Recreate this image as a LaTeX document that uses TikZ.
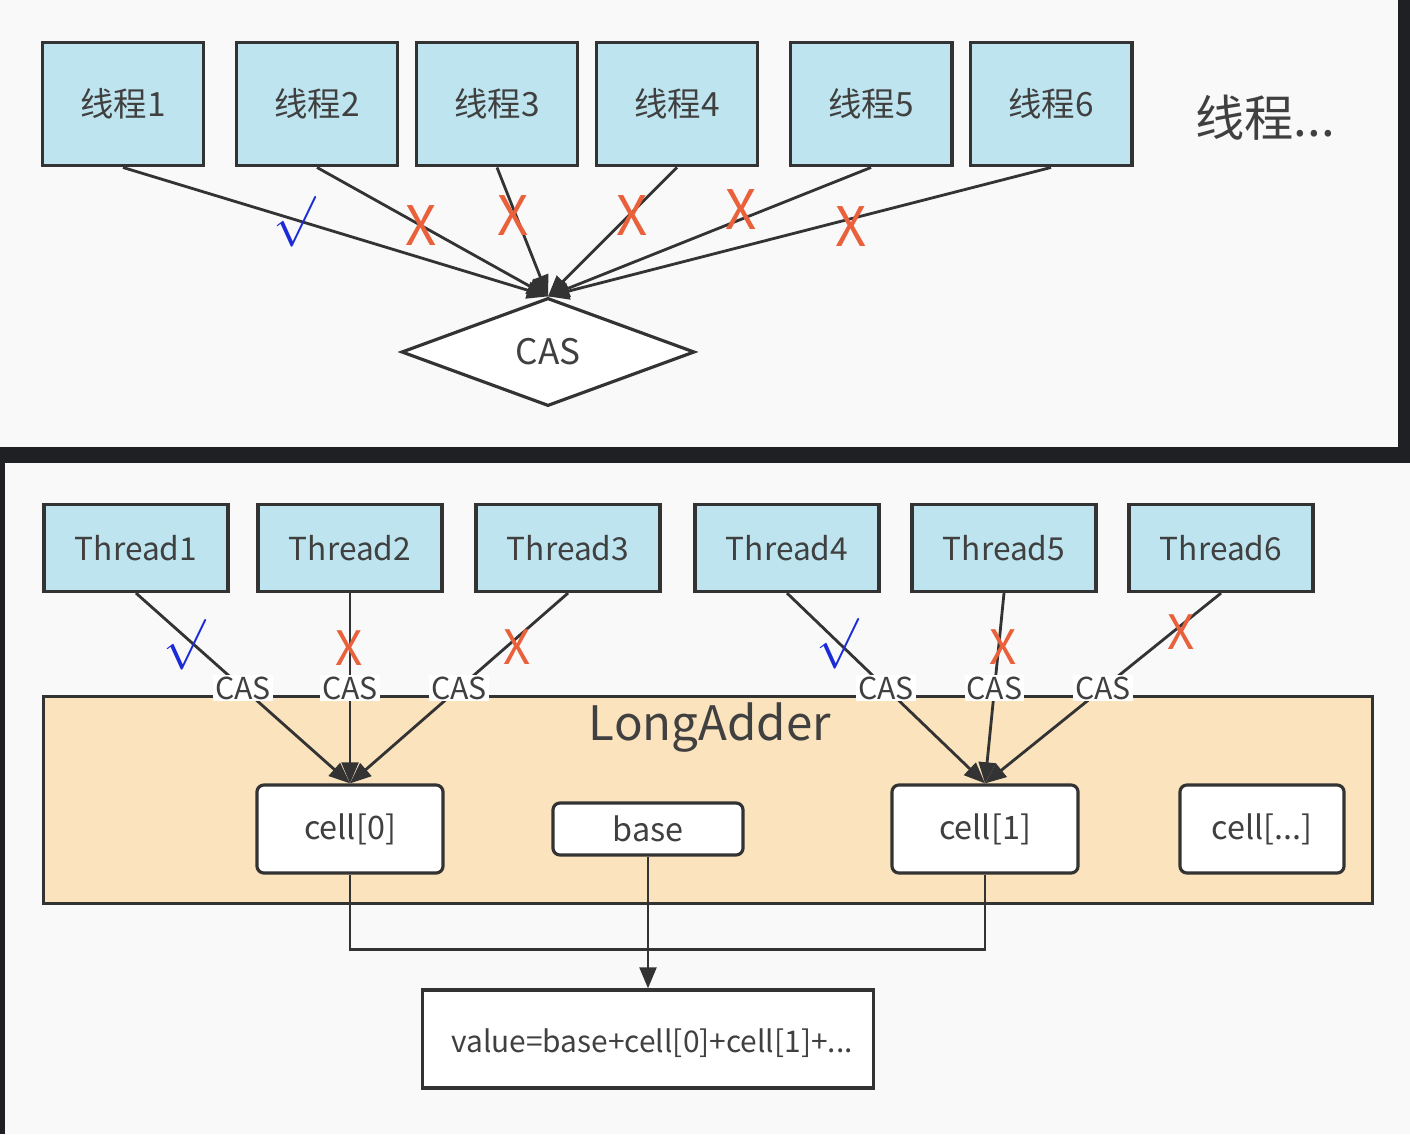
\documentclass[tikz,border=0pt]{standalone}
\usepackage{fontspec}
\setmainfont{Noto Sans CJK SC}
\usetikzlibrary{shapes.geometric,arrows.meta}
\definecolor{threadblue}{HTML}{BEE5EF}
\definecolor{adderfill}{HTML}{FAE3BD}
\definecolor{edgegray}{HTML}{333333}
\definecolor{textgray}{HTML}{404040}
\definecolor{crossred}{HTML}{E9603A}
\definecolor{tickblue}{HTML}{1B2BD8}
\definecolor{panelwhite}{HTML}{F9F9F9}
\definecolor{backdark}{HTML}{1F2023}
\begin{document}
\begin{tikzpicture}[x=0.01cm,y=-0.01cm,
  every node/.append style={inner sep=0pt,text=textgray},
  threadbox/.style={draw=edgegray,line width=1.1pt,fill=threadblue,minimum width=1.61cm,minimum height=1.23cm,font=\fontsize{9.5}{11}\selectfont},
  lthread/.style={draw=edgegray,line width=0.9pt,fill=threadblue,minimum width=1.84cm,minimum height=0.87cm,font=\fontsize{9}{11}\selectfont},
  cellbox/.style={draw=edgegray,line width=0.9pt,fill=white,rounded corners=2pt,minimum width=1.86cm,minimum height=0.88cm,font=\fontsize{9.2}{11}\selectfont},
  link/.style={draw=edgegray,line width=0.8pt,-{Triangle[length=6pt,width=4.8pt]}},
  wire/.style={draw=edgegray,line width=0.8pt},
  caslabel/.style={fill=white,inner sep=0.5pt,font=\fontsize{8.6}{10}\selectfont},
  tickmark/.style={text=tickblue,font=\fontsize{14}{15}\selectfont},
  crossmark/.style={text=crossred,font=\fontsize{15.5}{16}\selectfont}]
\fill[backdark] (0,0) rectangle (1410,1134);
\fill[panelwhite] (0,0) rectangle (1398,447);
\fill[panelwhite] (5,463) rectangle (1410,1134);
\foreach \i/\x in {1/123,2/317,3/497,4/677,5/871,6/1051}
  \node[threadbox] (p\i) at (\x,104) {\raisebox{-1pt}{线程\i}};
\node[font=\fontsize{14}{16}\selectfont] (pmore) at (1265,118) {线程...};
\node[diamond,draw=edgegray,line width=0.9pt,fill=white,minimum width=2.93cm,minimum height=1.08cm,font=\fontsize{10}{12}\selectfont] (cas) at (548,352) {CAS};
\foreach \i in {1,...,6}
  \draw[link] (p\i.south) -- (cas.north);
\node[tickmark] (ok1) at (295,222) {$\surd$};
\node[crossmark] (no2) at (421,226) {X};
\node[crossmark] (no3) at (513,216) {X};
\node[crossmark] (no4) at (632,216) {X};
\node[crossmark] (no5) at (741,210) {X};
\node[crossmark] (no6) at (851,227) {X};
\foreach \i/\x in {1/136,2/350,3/568,4/787,5/1004,6/1221}
  \node[lthread] (t\i) at (\x,548) {Thread\i};
\node[draw=edgegray,line width=0.9pt,fill=adderfill,minimum width=13.29cm,minimum height=2.07cm] (adder) at (708,800) {};
\node[font=\fontsize{13.5}{16}\selectfont] (addername) at (710,728) {LongAdder};
\node[cellbox] (c0) at (350,829) {cell[0]};
\node[cellbox,minimum width=1.9cm,minimum height=0.52cm] (base) at (648,829) {base};
\node[cellbox] (c1) at (985,829) {cell[1]};
\node[cellbox,minimum width=1.64cm] (cmore) at (1262,829) {cell[...]};
\draw[link] (t1.south) -- node[caslabel] {CAS} (c0.north);
\draw[link] (t2.south) -- node[caslabel] {CAS} (c0.north);
\draw[link] (t3.south) -- node[caslabel] {CAS} (c0.north);
\draw[link] (t4.south) -- node[caslabel] {CAS} (c1.north);
\draw[link] (t5.south) -- node[caslabel] {CAS} (c1.north);
\draw[link] (t6.south) -- node[caslabel] {CAS} (c1.north);
\node[tickmark] (ok7) at (185,645) {$\surd$};
\node[crossmark,font=\fontsize{13.5}{14}\selectfont] (no8) at (349,648) {X};
\node[crossmark,font=\fontsize{13.5}{14}\selectfont] (no9) at (517,647) {X};
\node[tickmark] (ok10) at (838,644) {$\surd$};
\node[crossmark,font=\fontsize{13.5}{14}\selectfont] (no11) at (1003,647) {X};
\node[crossmark,font=\fontsize{13.5}{14}\selectfont] (no12) at (1181,632) {X};
\node[draw=edgegray,line width=0.9pt,fill=white,minimum width=4.5cm,minimum height=0.98cm] (res) at (648,1039) {};
\node[font=\fontsize{8.5}{10}\selectfont] (restext) at (652,1043) {value=base+cell[0]+cell[1]+...};
\draw[wire] (c0.south) -- ++(0,75) -| (c1.south);
\draw[link] (base.south) -- (res.north);
\end{tikzpicture}
\end{document}
